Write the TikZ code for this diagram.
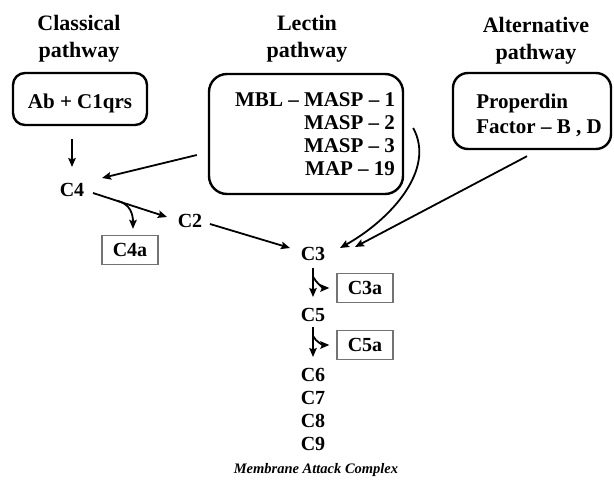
\documentclass[tikz,border=0pt]{standalone}
\usepackage{fontspec}
\setmainfont{Liberation Serif}
\usetikzlibrary{arrows.meta}
\begin{document}
\begin{tikzpicture}[x=1pt,y=-1pt,
  every node/.style={font=\bfseries\fontsize{21}{23}\selectfont},
  hdr/.style={align=center,inner sep=0pt,font=\bfseries\fontsize{22}{27}\selectfont},
  pbox/.style={draw,line width=2.4pt,rounded corners=12pt},
  sbox/.style={draw=black!55,line width=1.3pt,minimum width=56pt,minimum height=29pt,inner sep=0pt,font=\bfseries\fontsize{20}{24}\selectfont},
  cl/.style={inner sep=0pt,font=\bfseries\fontsize{20}{24}\selectfont},
  arr/.style={line width=1.8pt,-{Stealth[length=9pt,width=7.5pt,inset=1.5pt]}}]
\useasboundingbox (0,0) rectangle (614,482);
% headers
\node[hdr] (hc) at (79,38.6) {Classical\\pathway};
\node[hdr] (hl) at (307,38.6) {Lectin\\pathway};
\node[hdr] (ha) at (536,41) {Alternative\\pathway};
% pathway boxes
\node[pbox,minimum width=134pt,minimum height=52pt,inner sep=0pt] (cbox) at (80,99) {\raisebox{-4pt}[\height][\depth]{Ab + C1qrs}};
\node[pbox,rounded corners=18pt,minimum width=194pt,minimum height=120pt,text width=178pt,align=flush right,inner xsep=8pt] (lbox) at (306,134) {MBL – MASP – 1\\MASP – 2\\MASP – 3\\MAP – 19};
\node[pbox,rounded corners=15pt,minimum width=158pt,minimum height=76pt,inner sep=0pt] (abox) at (532,111) {\hspace*{14pt}\raisebox{-5pt}[\height][\depth]{\begin{tabular}{@{}l@{}}Properdin\\[2pt]Factor – B , D\end{tabular}}};
% components
\node[cl] (c4) at (72,190) {C4};
\node[cl] (c2) at (190,221) {C2};
\node[sbox] (c4a) at (130,250) {C4a};
\node[cl] (c3) at (313,254) {C3};
\node[sbox] (c3a) at (365,288) {C3a};
\node[cl] (c5) at (313,315) {C5};
\node[sbox] (c5a) at (365,345) {C5a};
\node[cl] (c6) at (313,375) {C6};
\node[cl] (c7) at (313,398) {C7};
\node[cl] (c8) at (313,421) {C8};
\node[cl] (c9) at (313,444) {C9};
\node[font=\bfseries\itshape\fontsize{14.5}{17}\selectfont] (mac) at (316,470.5) {Membrane Attack Complex};
% connectors
\draw[arr] ([yshift=-13pt]cbox.south -| c4.north) -- ([yshift=23pt]c4.center);
\draw[arr] ([xshift=-11pt,yshift=-21pt]lbox.west) -- ([xshift=30pt,yshift=12pt]c4.center);
\draw[arr] ([xshift=21pt,yshift=-3pt]c4.center) -- coordinate[pos=0.32] (k4) ([xshift=-23pt,yshift=4pt]c2.center);
\draw[arr] (k4) .. controls +(14,3) and +(0,-14) .. ([xshift=3pt,yshift=6pt]c4a.north);
\draw[arr] ([xshift=20pt,yshift=-3pt]c2.center) -- ([xshift=-23pt,yshift=6pt]c3.center);
\draw[arr] ([xshift=9pt,yshift=6pt]lbox.east) .. controls +(23,42) and +(50,-28) .. ([xshift=27pt,yshift=6pt]c3.center);
\draw[arr] ([xshift=-5pt,yshift=-6pt]abox.south) -- ([xshift=42pt,yshift=7pt]c3.center);
\draw[arr] ([yshift=-14pt]c3.center) -- coordinate[pos=0.3] (k3) ([yshift=18pt]c5.center);
\draw[arr] (k3) .. controls +(3,6) and +(-6,0) .. ([xshift=-7pt]c3a.west);
\draw[arr] ([yshift=-12pt]c5.center) -- coordinate[pos=0.3] (k5) ([yshift=18pt]c6.center);
\draw[arr] (k5) .. controls +(3,6) and +(-6,0) .. ([xshift=-7pt]c5a.west);
\end{tikzpicture}
\end{document}
